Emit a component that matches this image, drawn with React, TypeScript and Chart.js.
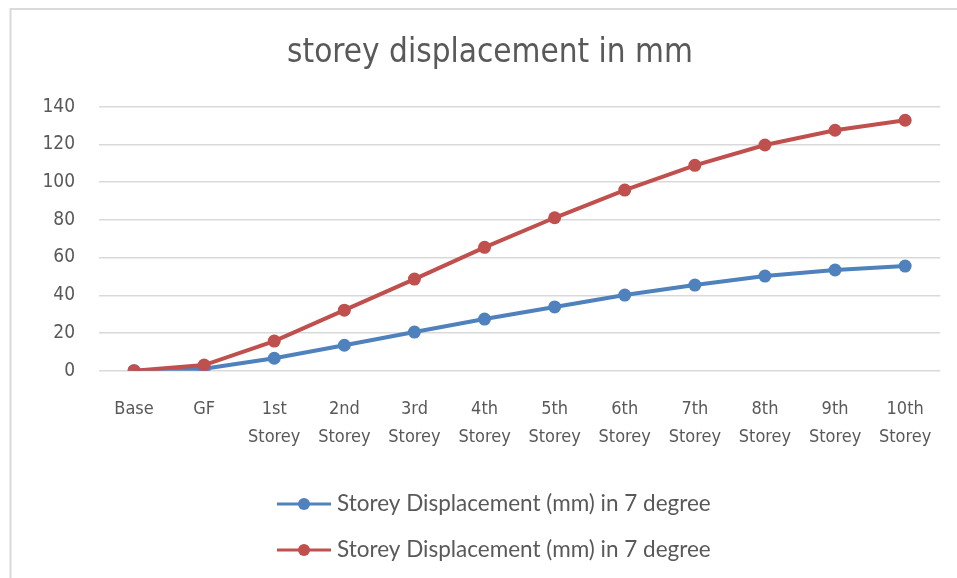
import React, { useEffect, useRef } from "react";
import { Chart, registerables } from "chart.js";

Chart.register(...registerables);

const titleText = "storey displacement in mm";

const categories: (string | string[])[] = [
  "Base",
  "GF",
  ["1st", "Storey"],
  ["2nd", "Storey"],
  ["3rd", "Storey"],
  ["4th", "Storey"],
  ["5th", "Storey"],
  ["6th", "Storey"],
  ["7th", "Storey"],
  ["8th", "Storey"],
  ["9th", "Storey"],
  ["10th", "Storey"],
];

const seriesBlue = [0, 1, 6.6, 13.5, 20.5, 27.4, 33.8, 40.1, 45.4, 50.2, 53.4, 55.5];
const seriesRed = [0, 3, 15.7, 32.1, 48.6, 65.4, 81.1, 95.8, 108.9, 119.7, 127.5, 132.8];

const seriesLabels = [
  "Storey Displacement (mm) in 7 degree",
  "Storey Displacement (mm) in 7 degree",
];

const yMin = 0;
const yMax = 140;
const yStep = 20;

const BLUE = "#4f81bd";
const RED = "#c0504d";
const TEXT = "#595959";
const GRID = "#d9d9d9";
const NARROW = "'Liberation Sans Narrow', 'Arial Narrow', 'DejaVu Sans Condensed', sans-serif";
const LEGEND_FONT = "Lato, 'Open Sans', sans-serif";

export default function App() {
  const ref = useRef<HTMLCanvasElement>(null);

  useEffect(() => {
    const canvas = ref.current;
    if (!canvas) return;

    const framePlugin = {
      id: "frame",
      beforeDraw(chart: any) {
        const ctx = chart.ctx;
        ctx.save();
        ctx.fillStyle = "#ffffff";
        ctx.fillRect(0, 0, chart.width, chart.height);
        ctx.strokeStyle = GRID;
        ctx.lineWidth = 2;
        ctx.beginPath();
        ctx.moveTo(10.5, chart.height);
        ctx.lineTo(10.5, 9);
        ctx.lineTo(chart.width, 9);
        ctx.stroke();
        ctx.restore();
      },
    };

    const titlePlugin = {
      id: "titleText",
      afterDraw(chart: any) {
        const ctx = chart.ctx;
        ctx.save();
        ctx.fillStyle = TEXT;
        ctx.font = `33px ${NARROW}`;
        ctx.textAlign = "center";
        ctx.textBaseline = "alphabetic";
        ctx.fillText(titleText, 490, 62);
        ctx.restore();
      },
    };

    const legendPlugin = {
      id: "customLegend",
      afterDraw(chart: any) {
        const ctx = chart.ctx;
        const rows = [504, 550];
        chart.data.datasets.forEach((ds: any, i: number) => {
          const y = rows[i];
          ctx.save();
          ctx.strokeStyle = ds.borderColor;
          ctx.lineWidth = 3;
          ctx.beginPath();
          ctx.moveTo(277, y);
          ctx.lineTo(331, y);
          ctx.stroke();
          ctx.fillStyle = ds.backgroundColor;
          ctx.beginPath();
          ctx.arc(304, y, 6, 0, Math.PI * 2);
          ctx.fill();
          ctx.fillStyle = TEXT;
          ctx.font = `22.5px ${LEGEND_FONT}`;
          ctx.textAlign = "left";
          ctx.textBaseline = "middle";
          ctx.fillText(ds.label, 337, y);
          ctx.restore();
        });
      },
    };

    const chart = new Chart(canvas, {
      type: "line",
      data: {
        labels: categories,
        datasets: [
          {
            label: seriesLabels[0],
            data: seriesBlue,
            borderColor: BLUE,
            backgroundColor: BLUE,
            borderWidth: 4,
            pointRadius: 6.5,
            pointHoverRadius: 6.5,
            pointBorderWidth: 0,
            pointBackgroundColor: BLUE,
            tension: 0,
            order: 1,
          },
          {
            label: seriesLabels[1],
            data: seriesRed,
            borderColor: RED,
            backgroundColor: RED,
            borderWidth: 4,
            pointRadius: 6.5,
            pointHoverRadius: 6.5,
            pointBorderWidth: 0,
            pointBackgroundColor: RED,
            tension: 0,
            order: 0,
          },
        ],
      },
      options: {
        responsive: false,
        animation: false,
        layout: {
          padding: { top: 106.7, right: 16.3, left: 0, bottom: 117.3 },
        },
        plugins: {
          legend: { display: false },
          title: { display: false },
          tooltip: { enabled: false },
        },
        scales: {
          x: {
            offset: true,
            grid: { display: false, drawTicks: false },
            border: { display: false },
            ticks: {
              color: TEXT,
              font: { family: NARROW, size: 18, lineHeight: 1.55 },
              padding: 25,
              maxRotation: 0,
              autoSkip: false,
            },
            afterFit(scale: any) {
              scale.height = 90;
            },
          },
          y: {
            min: yMin,
            max: yMax,
            grid: { color: GRID, lineWidth: 1.5, drawTicks: false },
            border: { display: false },
            ticks: {
              stepSize: yStep,
              color: TEXT,
              font: { family: NARROW, size: 19 },
              padding: 24,
            },
            afterFit(scale: any) {
              scale.width = 99;
            },
          },
        },
      },
      plugins: [framePlugin, titlePlugin, legendPlugin],
    });

    return () => chart.destroy();
  }, []);

  return (
    <div style={{ position: "absolute", left: 0, top: 0, width: 957, height: 578 }}>
      <canvas ref={ref} width={957} height={578} style={{ display: "block" }} />
    </div>
  );
}
